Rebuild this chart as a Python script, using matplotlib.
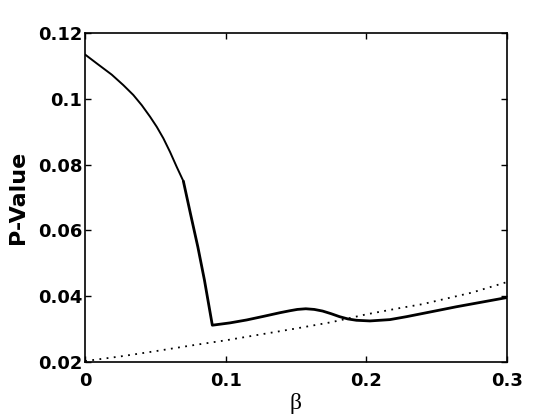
import matplotlib
matplotlib.use("Agg")
import matplotlib.pyplot as plt

# Solid curve (P-Value vs beta)
beta_solid = [0.0, 0.0083, 0.0189, 0.0272, 0.0343, 0.0403, 0.0462, 0.0510,
              0.0557, 0.0604, 0.0651, 0.0699,
              0.0750, 0.0802, 0.0849, 0.0905, 0.103, 0.115, 0.127, 0.1386,
              0.1457, 0.151, 0.157, 0.163, 0.169, 0.175, 0.181, 0.187, 0.193,
              0.2026, 0.2168, 0.2287, 0.2405, 0.2523, 0.264, 0.282, 0.3]
pval_solid = [0.1135, 0.1108, 0.1074, 0.1042, 0.1012, 0.0981, 0.0946, 0.0915,
              0.0880, 0.0839, 0.0794, 0.0750,
              0.0650, 0.0550, 0.0449, 0.0312, 0.0319, 0.0328, 0.0339, 0.0350,
              0.0356, 0.0360, 0.0362, 0.0360, 0.0355, 0.0347, 0.0338, 0.0331,
              0.0327, 0.0325, 0.0329, 0.0338, 0.0348, 0.0358, 0.0368, 0.0382,
              0.0396]

# Dotted curve
beta_dot = [0.0, 0.025, 0.05, 0.075, 0.1, 0.125, 0.15, 0.175, 0.2, 0.225,
            0.24, 0.25, 0.275, 0.3]
pval_dot = [0.0203, 0.0217, 0.0233, 0.0250, 0.0266, 0.0284, 0.0302, 0.0321,
            0.0345, 0.0365, 0.0376, 0.0386, 0.0411, 0.0443]

xticks = [0, 0.1, 0.2, 0.3]
xticklabels = ["0", "0.1", "0.2", "0.3"]
yticks = [0.02, 0.04, 0.06, 0.08, 0.1, 0.12]
yticklabels = ["0.02", "0.04", "0.06", "0.08", "0.1", "0.12"]

plt.rcParams['font.family'] = ['DejaVu Sans']

fig = plt.figure(figsize=(5.6, 4.2), dpi=100)
ax = fig.add_axes([0.152, 0.138, 0.753, 0.783])

n_thin = 12
ax.plot(beta_solid[:n_thin], pval_solid[:n_thin], color='black',
        linewidth=1.4, solid_joinstyle='round', solid_capstyle='round')
ax.plot(beta_solid[n_thin - 1:], pval_solid[n_thin - 1:], color='black',
        linewidth=2.0, solid_joinstyle='round', solid_capstyle='round')
ax.plot(beta_dot, pval_dot, color='black', linewidth=1.3, linestyle=(0, (1, 3)))

ax.set_xlim(0, 0.3)
ax.set_ylim(0.02, 0.12)
ax.set_xticks(xticks)
ax.set_xticklabels(xticklabels, fontsize=13, fontweight='bold')
ax.set_yticks(yticks)
ax.set_yticklabels(yticklabels, fontsize=13, fontweight='bold')
ax.tick_params(axis='x', direction='in', length=4, width=1, top=True, pad=7)
ax.tick_params(axis='y', direction='in', length=4, width=1, right=True, pad=2)
for s in ax.spines.values():
    s.set_linewidth(1.2)

ax.set_xlabel('β', fontsize=17, family=['Liberation Serif', 'DejaVu Serif'], labelpad=2)
ax.set_ylabel('P-Value', fontsize=16, fontweight='bold', labelpad=7)

fig.savefig('out.png', dpi=100)
